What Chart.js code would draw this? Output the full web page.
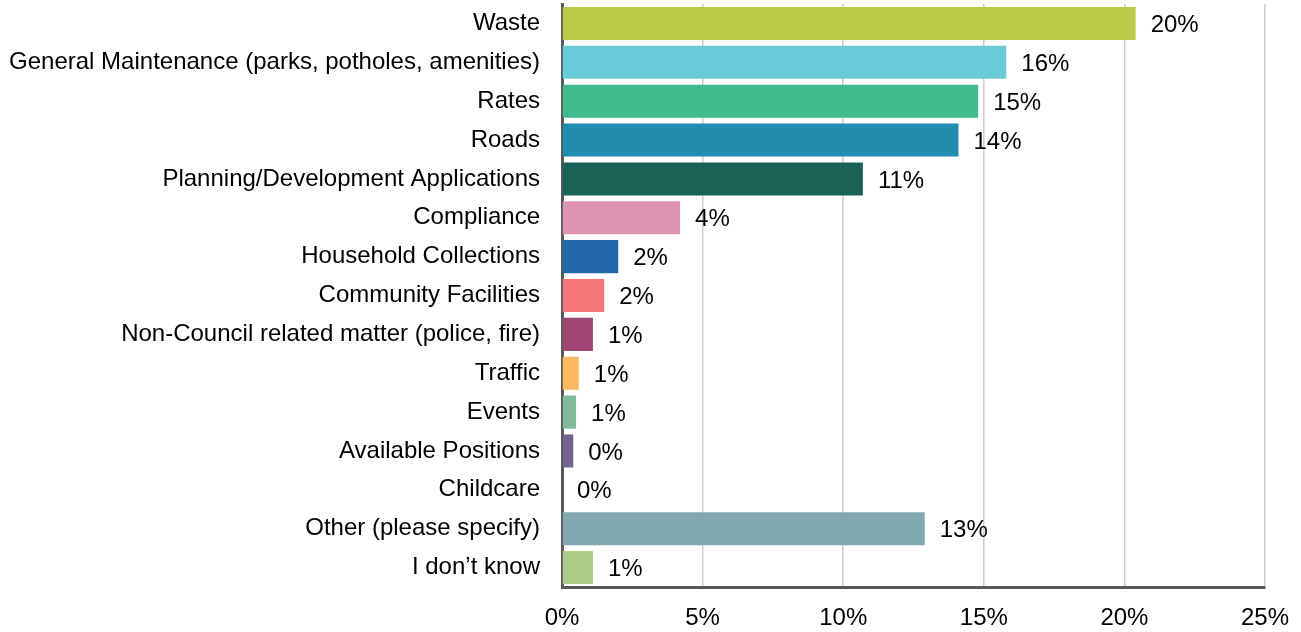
<!DOCTYPE html>
<html>
<head>
<meta charset="utf-8">
<script src="https://cdn.jsdelivr.net/npm/chart.js@4.4.1/dist/chart.umd.min.js"></script>
<style>
  html, body { margin: 0; padding: 0; background: #ffffff; }
  #wrap { width: 1301px; height: 632px; }
</style>
</head>
<body>
<div id="wrap"><canvas id="c" width="1301" height="632"></canvas></div>
<script>
const categories = [
  "Waste",
  "General Maintenance (parks, potholes, amenities)",
  "Rates",
  "Roads",
  "Planning/Development Applications",
  "Compliance",
  "Household Collections",
  "Community Facilities",
  "Non-Council related matter (police, fire)",
  "Traffic",
  "Events",
  "Available Positions",
  "Childcare",
  "Other (please specify)",
  "I don\u2019t know"
];
const values = [20.4, 15.8, 14.8, 14.1, 10.7, 4.2, 2.0, 1.5, 1.1, 0.6, 0.5, 0.4, 0.0, 12.9, 1.1];
const barColors = [
  "#b9cb47", "#6acbd8", "#41bb8e", "#228caf", "#1b6256",
  "#db95b2", "#2369aa", "#f47777", "#9e4576", "#fdb863",
  "#7fbb96", "#72638f", "#cccccc", "#82a8af", "#abcd88"
];
const xTicks = [0, 5, 10, 15, 20, 25];

const FONT = "'Liberation Sans', Arial, sans-serif";

const valueLabels = {
  id: "valueLabels",
  afterDatasetsDraw(chart) {
    const ctx = chart.ctx;
    const meta = chart.getDatasetMeta(0);
    ctx.save();
    ctx.font = "24px " + FONT;
    ctx.fillStyle = "#000000";
    ctx.textAlign = "left";
    ctx.textBaseline = "middle";
    meta.data.forEach((bar, i) => {
      const txt = Math.round(values[i]) + "%";
      ctx.fillText(txt, bar.x + 15, bar.y + 2);
    });
    ctx.restore();
  }
};

new Chart(document.getElementById("c"), {
  type: "bar",
  data: {
    labels: categories,
    datasets: [{
      data: values,
      backgroundColor: barColors,
      borderWidth: 0,
      categoryPercentage: 0.85,
      barPercentage: 1.0
    }]
  },
  options: {
    indexAxis: "y",
    responsive: false,
    animation: false,
    layout: { padding: { top: 4, right: 36, left: 0, bottom: 0 } },
    plugins: {
      legend: { display: false },
      tooltip: { enabled: false }
    },
    scales: {
      x: {
        min: 0,
        max: 25,
        afterBuildTicks(scale) {
          scale.ticks = xTicks.map(v => ({ value: v }));
        },
        afterFit(scale) {
          scale.height = 632 - 587;
          scale.paddingLeft = 0;
          scale.paddingRight = 0;
        },
        ticks: {
          color: "#000000",
          font: { family: FONT, size: 24 },
          padding: 17,
          callback: (v) => v + "%"
        },
        grid: {
          color: "#cccccc",
          lineWidth: 1.5,
          drawTicks: false
        },
        border: { display: true, color: "#595959", width: 3 }
      },
      y: {
        afterFit(scale) {
          scale.width = 562;
          scale.paddingTop = 0;
          scale.paddingBottom = 0;
        },
        ticks: {
          color: "#000000",
          font: { family: FONT, size: 24 },
          padding: 22,
          autoSkip: false
        },
        grid: { display: false, drawTicks: false },
        border: { display: true, color: "#595959", width: 3 }
      }
    }
  },
  plugins: [valueLabels]
});
</script>
</body>
</html>
